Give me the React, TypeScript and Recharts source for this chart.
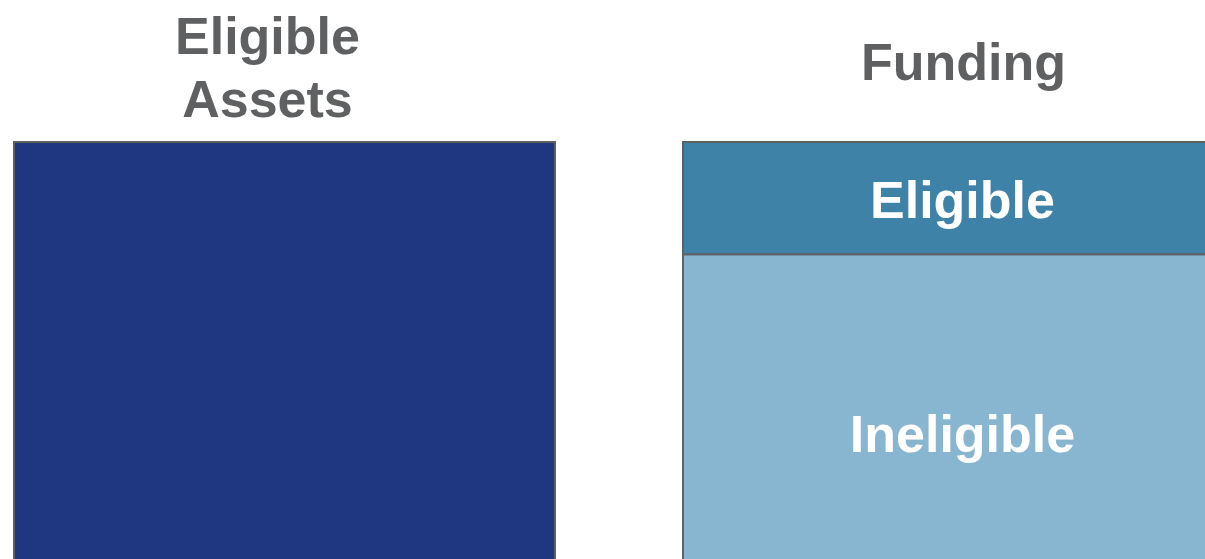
import { Bar, BarChart, LabelList, XAxis, YAxis } from "recharts";

/* Data */
const categories = ["Eligible Assets", "Funding"];
const eligibleAssets = [100, null];
const fundingEligible = [null, 24];
const fundingIneligible = [null, 76];

const rows = categories.map((name, i) => ({
  name,
  assets: eligibleAssets[i],
  eligible: fundingEligible[i],
  ineligible: fundingIneligible[i],
}));

const FONT = '"Liberation Sans", Arial, Helvetica, sans-serif';
const GREY = "#5f6062";

// the titles are not quite centred over their bars in the original slide
const titlePos: Record<string, { dx: number; baseline: number }> = {
  "Eligible Assets": { dx: -17, baseline: 54 },
  Funding: { dx: 10, baseline: 80 },
};

function TitleTick(props: any) {
  const { x, payload } = props;
  const label: string = payload.value;
  const words = label.split(" ");
  const pos = titlePos[label] ?? { dx: 0, baseline: 80 };
  const cx = x + pos.dx;
  const lineH = 63;
  return (
    <text
      x={cx}
      textAnchor="middle"
      fontFamily={FONT}
      fontWeight="bold"
      fontSize={52}
      fill={GREY}
    >
      {words.map((w, i) => (
        <tspan key={w} x={cx} y={pos.baseline + i * lineH}>
          {w}
        </tspan>
      ))}
    </text>
  );
}

function InnerLabel(props: any) {
  const { x, y, width, height, value } = props;
  if (!value) return null;
  return (
    <text
      x={x + width / 2 + 9}
      y={y + height / 2 + 2}
      textAnchor="middle"
      dominantBaseline="central"
      fontFamily={FONT}
      fontWeight="bold"
      fontSize={52}
      fill="#ffffff"
    >
      {props.name}
    </text>
  );
}

export default function App() {
  return (
    <div
      style={{
        position: "fixed",
        left: 0,
        top: 0,
        width: 1205,
        height: 559,
        overflow: "hidden",
        background: "#ffffff",
      }}
    >
      <div style={{ position: "absolute", left: -50, top: 0 }}>
        <BarChart
          width={1338}
          height={620}
          data={rows}
          barSize={541}
          margin={{ top: 0, right: 0, bottom: 10, left: 0 }}
        >
          <XAxis
            dataKey="name"
            orientation="top"
            height={142}
            axisLine={false}
            tickLine={false}
            interval={0}
            tick={<TitleTick />}
          />
          <YAxis hide domain={[0, 100]} />
          <Bar
            dataKey="assets"
            stackId="a"
            fill="#1f3780"
            stroke={GREY}
            strokeWidth={2}
            isAnimationActive={false}
          />
          <Bar
            dataKey="ineligible"
            stackId="a"
            fill="#88b5d0"
            stroke={GREY}
            strokeWidth={2}
            isAnimationActive={false}
          >
            <LabelList
              dataKey="ineligible"
              content={(p: any) => <InnerLabel {...p} name="Ineligible" />}
            />
          </Bar>
          <Bar
            dataKey="eligible"
            stackId="a"
            fill="#3f82a8"
            stroke={GREY}
            strokeWidth={2}
            isAnimationActive={false}
          >
            <LabelList
              dataKey="eligible"
              content={(p: any) => <InnerLabel {...p} name="Eligible" />}
            />
          </Bar>
        </BarChart>
      </div>
    </div>
  );
}
